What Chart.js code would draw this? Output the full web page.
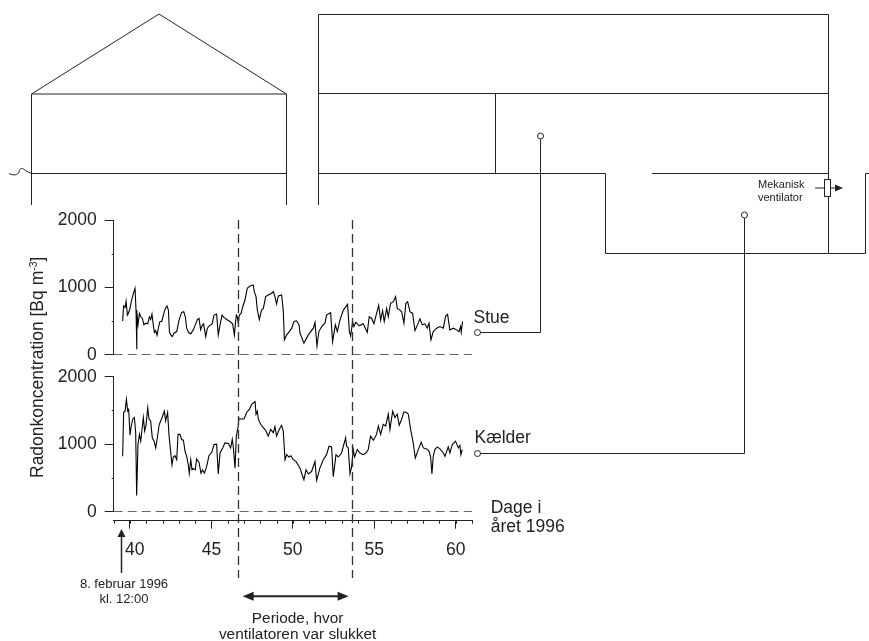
<!DOCTYPE html>
<html>
<head>
<meta charset="utf-8">
<style>
    html, body { margin: 0; padding: 0; background: #fff; }
    canvas { display: block; }
</style>
<script src="https://cdn.jsdelivr.net/npm/chart.js@4/dist/chart.umd.js"></script>
</head>
<body>
<canvas id="radonChart" width="869" height="641"></canvas>
<script>
// Stue (living room) series
const stueDays = [39.55,39.61,39.70,39.76,39.84,39.90,40.00,40.10,40.21,40.31,40.37,40.41,40.43,40.49,40.58,40.66,40.76,40.86,40.96,41.09,41.19,41.27,41.35,41.43,41.50,41.58,41.66,41.76,41.84,41.95,42.05,42.17,42.27,42.36,42.42,42.50,42.60,42.70,42.87,43.01,43.17,43.30,43.40,43.48,43.60,43.73,43.89,44.01,44.14,44.24,44.34,44.42,44.52,44.65,44.75,44.87,45.04,45.16,45.32,45.42,45.53,45.65,45.77,45.94,46.14,46.30,46.41,46.47,46.53,46.59,46.65,46.71,46.82,46.92,47.06,47.20,47.37,47.57,47.63,47.74,47.82,47.94,48.08,48.19,48.33,48.49,48.70,48.80,48.90,49.00,49.11,49.31,49.41,49.48,49.62,49.78,49.93,50.07,50.23,50.38,50.44,50.68,50.95,51.26,51.36,51.48,51.60,51.77,51.97,52.07,52.32,52.44,52.61,52.73,52.89,53.10,53.36,53.47,53.55,53.67,53.75,53.87,54.08,54.32,54.57,54.69,54.84,54.98,55.14,55.27,55.39,55.51,55.61,55.76,55.86,56.00,56.17,56.31,56.41,56.58,56.68,56.82,56.94,57.05,57.19,57.35,57.50,57.70,57.80,57.95,58.11,58.25,58.36,58.48,58.62,58.83,59.03,59.24,59.38,59.50,59.64,59.85,60.05,60.20,60.30,60.34,60.42];
const stueValues = [500,725,705,795,590,615,690,815,915,990,665,80,640,445,615,565,540,445,470,460,565,525,605,445,330,360,290,420,495,495,590,690,725,665,345,295,270,320,345,515,630,640,565,395,330,310,370,445,525,540,370,430,460,270,395,430,460,590,605,295,445,590,555,525,495,460,295,460,590,565,470,590,615,715,815,990,1025,1040,940,865,665,525,665,690,865,890,915,940,865,755,875,890,665,220,295,345,395,495,505,445,320,170,295,395,480,130,345,420,470,590,625,195,445,345,515,665,750,345,280,495,420,485,430,460,335,565,540,460,615,735,515,655,495,690,565,765,790,865,690,665,640,470,765,790,640,615,360,470,535,445,460,395,470,220,345,395,420,395,575,600,370,395,370,345,420,335,495];

// Kaelder (basement) series
const kaelderDays = [39.55,39.61,39.70,39.78,39.86,39.92,40.00,40.08,40.17,40.27,40.35,40.41,40.49,40.58,40.66,40.82,40.90,40.98,41.09,41.17,41.27,41.37,41.48,41.58,41.68,41.80,41.95,42.11,42.19,42.31,42.40,42.58,42.66,42.76,42.87,42.95,43.07,43.17,43.28,43.38,43.48,43.58,43.64,43.73,43.81,43.89,44.01,44.09,44.24,44.36,44.46,44.57,44.71,44.85,45.02,45.16,45.32,45.42,45.53,45.69,45.83,46.04,46.18,46.28,46.35,46.45,46.53,46.63,46.69,46.86,47.02,47.16,47.33,47.47,47.68,47.74,47.82,47.88,48.02,48.19,48.35,48.49,48.64,48.80,48.90,49.00,49.17,49.31,49.41,49.52,49.62,49.76,49.88,50.03,50.19,50.38,50.44,50.54,50.68,50.81,50.95,51.15,51.36,51.46,51.66,51.87,52.07,52.22,52.38,52.48,52.65,52.79,52.99,53.24,53.30,53.40,53.51,53.61,53.71,53.79,53.96,54.12,54.32,54.49,54.63,54.77,54.94,55.14,55.25,55.39,55.55,55.70,55.86,55.96,56.13,56.27,56.41,56.53,56.68,56.82,56.98,57.09,57.23,57.39,57.52,57.70,57.88,58.01,58.21,58.36,58.46,58.54,58.62,58.72,58.87,59.03,59.24,59.34,59.54,59.64,59.79,59.99,60.16,60.26,60.32,60.40];
const kaelderValues = [820,1470,1490,1665,1490,1515,1135,1270,1370,1395,1170,240,995,1145,1045,1395,1195,1270,1540,1370,1345,1095,1045,945,1095,1295,1380,1490,1345,1470,1120,695,810,830,770,1145,1145,1070,1060,895,820,695,570,770,620,640,620,780,730,570,620,570,670,830,880,995,1000,560,870,945,1020,1010,945,1070,945,645,1120,1245,1380,1370,1380,1470,1515,1590,1630,1445,1490,1370,1295,1245,1195,1120,1220,1170,1260,1120,1220,1280,1195,770,845,810,830,770,745,670,645,570,475,620,560,595,745,465,645,770,845,970,960,520,845,810,870,1095,970,945,560,670,920,810,920,870,845,870,920,1120,1060,1145,1270,1145,1295,1270,1445,1220,1490,1395,1445,1280,1370,1480,1470,1445,1220,1020,795,920,1030,945,930,895,810,560,820,920,960,930,870,820,960,870,995,1045,945,980,845,920];

const xTicks = [40, 45, 50, 55, 60];
const yTicks = [0, 1000, 2000];
const minorYTicks = [500, 1500];
const ventOffStart = 46.67;
const ventOffEnd = 53.67;
const startDay = 39.5;

const ink = '#222';
const dashInk = '#333';
const fontName = '"Liberation Sans", Arial, sans-serif';
const bigFont = '17.5px ' + fontName;

// building outline, pixel segments x1,y1,x2,y2
const buildingLines = [
    [31.5,94,159,14],[159,14,286.5,94],[31.5,94,286.5,94],[31.5,94,31.5,205],[286.5,94,286.5,205],[31.5,173.5,286.5,173.5],
    [318.5,14.5,828.5,14.5],[318.5,14.5,318.5,205],[828.5,14.5,828.5,253.5],[318.5,93.5,828.5,93.5],[495.5,93.5,495.5,173.5],
    [318.5,173.5,605.5,173.5],[605.5,173.5,605.5,253.5],[605.5,253.5,865.5,253.5],[865.5,253.5,865.5,173.5],[865.5,173.5,869,173.5],
    [652,173.5,828.5,173.5]
];

function hideScaleExtras(scale) {
    scale.width = 113.7;
}

function yScale(weight, stackWeight) {
    return {
        type: 'linear',
        position: 'left',
        stack: 'panels',
        stackWeight: stackWeight,
        weight: weight,
        min: 0,
        max: 2000,
        afterFit: hideScaleExtras,
        afterBuildTicks: (scale) => { scale.ticks = yTicks.map((v) => ({ value: v })); },
        border: { color: ink, width: 1 },
        grid: { drawOnChartArea: false, tickLength: 9, tickColor: ink },
        ticks: {
            color: ink,
            font: { family: fontName, size: 17.5 },
            padding: 8,
            autoSkip: false,
            callback: (v) => String(v)
        }
    };
}

// empty scale, only used to open a gap in the stack
function gapScale(weight, stackWeight) {
    return {
        type: 'linear',
        position: 'left',
        stack: 'panels',
        stackWeight: stackWeight,
        weight: weight,
        afterFit: hideScaleExtras,
        border: { display: false },
        grid: { display: false },
        ticks: { display: false }
    };
}

function line(ctx, x1, y1, x2, y2) {
    ctx.beginPath();
    ctx.moveTo(x1, y1);
    ctx.lineTo(x2, y2);
    ctx.stroke();
}

function circle(ctx, x, y) {
    ctx.beginPath();
    ctx.arc(x, y, 3, 0, Math.PI * 2);
    ctx.fillStyle = '#fff';
    ctx.fill();
    ctx.stroke();
}

function head(ctx, tipX, tipY, dx, dy, len, half) {
    ctx.beginPath();
    ctx.moveTo(tipX, tipY);
    ctx.lineTo(tipX - dx * len - dy * half, tipY - dy * len - dx * half);
    ctx.lineTo(tipX - dx * len + dy * half, tipY - dy * len + dx * half);
    ctx.closePath();
    ctx.fillStyle = ink;
    ctx.fill();
}

function label(ctx, text, x, y, font, align) {
    ctx.font = font;
    ctx.fillStyle = ink;
    ctx.textAlign = align || 'left';
    ctx.textBaseline = 'alphabetic';
    ctx.fillText(text, x, y);
}

// the house drawing and everything that is not a scale or dataset
const schematic = {
    id: 'schematic',
    beforeDraw(chart) {
        const ctx = chart.ctx;
        ctx.save();
        ctx.strokeStyle = ink;
        ctx.lineWidth = 1;
        buildingLines.forEach((s) => line(ctx, s[0], s[1], s[2], s[3]));

        // little wiggle left of the house
        ctx.beginPath();
        ctx.moveTo(9, 173.5);
        ctx.bezierCurveTo(14, 176, 18, 175, 19, 172);
        ctx.bezierCurveTo(20, 167, 23, 168, 26, 171);
        ctx.lineTo(32, 173.5);
        ctx.stroke();

        // fan
        line(ctx, 815, 188, 836, 188);
        ctx.fillStyle = '#fff';
        ctx.fillRect(824.5, 179.5, 6, 17);
        ctx.strokeRect(824.5, 179.5, 6, 17);
        head(ctx, 843, 188, 1, 0, 8, 3.5);
        label(ctx, 'Mekanisk', 758, 188, '11px ' + fontName);
        label(ctx, 'ventilator', 758, 201, '11px ' + fontName);
        ctx.restore();
    },
    afterDraw(chart) {
        const ctx = chart.ctx;
        const x = chart.scales.x;
        const top = chart.scales.yStue;
        const bottom = chart.scales.yKaelder;
        ctx.save();
        ctx.strokeStyle = ink;
        ctx.lineWidth = 1;

        // minor ticks
        for (let day = 39; day <= 61; day++) {
            const px = Math.round(x.getPixelForValue(day)) + 0.5;
            line(ctx, px, x.top, px, x.top + 3);
        }
        minorYTicks.forEach((v) => {
            [top, bottom].forEach((s) => {
                const py = Math.round(s.getPixelForValue(v)) + 0.5;
                line(ctx, s.right - 2, py, s.right, py);
            });
        });

        // fan off period
        ctx.setLineDash([9, 5]);
        ctx.strokeStyle = dashInk;
        ctx.lineWidth = 1.3;
        [ventOffStart, ventOffEnd].forEach((day) => {
            const px = Math.floor(x.getPixelForValue(day)) + 0.5;
            line(ctx, px, 220, px, 578);
        });
        ctx.setLineDash([]);
        ctx.strokeStyle = ink;

        const offA = x.getPixelForValue(ventOffStart);
        const offB = x.getPixelForValue(ventOffEnd);
        ctx.lineWidth = 2;
        line(ctx, offA + 10, 596.3, offB - 10, 596.3);
        head(ctx, offA + 4, 596.3, -1, 0, 11, 4.5);
        head(ctx, offB - 4, 596.3, 1, 0, 11, 4.5);
        ctx.lineWidth = 1;
        const mid = (offA + offB) / 2;
        label(ctx, 'Periode, hvor', mid + 2, 622.5, '15.4px ' + fontName, 'center');
        label(ctx, 'ventilatoren var slukket', mid + 2, 639, '15.4px ' + fontName, 'center');

        // start arrow
        const startPx = Math.floor(x.getPixelForValue(startDay)) + 0.5;
        ctx.lineWidth = 1.5;
        line(ctx, startPx, 535, startPx, 573);
        head(ctx, startPx, 529, 0, -1, 8, 4);
        ctx.lineWidth = 1;
        label(ctx, '8. februar 1996', 124, 587.7, '13px ' + fontName, 'center');
        label(ctx, 'kl. 12:00', 124, 603.3, '13px ' + fontName, 'center');

        // leaders from the series to the rooms
        line(ctx, 480, 332.5, 540.5, 332.5);
        line(ctx, 540.5, 332.5, 540.5, 139);
        circle(ctx, 477.5, 332.5);
        circle(ctx, 540.5, 136);
        line(ctx, 480, 453.5, 744.5, 453.5);
        line(ctx, 744.5, 453.5, 744.5, 218);
        circle(ctx, 477.5, 453.5);
        circle(ctx, 744.5, 215);

        label(ctx, 'Stue', 473.5, 323.3, bigFont);
        label(ctx, 'Kælder', 474.5, 442.7, bigFont);
        label(ctx, 'Dage i', 490.7, 512.7, bigFont);
        label(ctx, 'året 1996', 490.7, 532.3, bigFont);

        // shared y title, the Chart.js title can not do the superscript
        ctx.translate(42.7, 478);
        ctx.rotate(-Math.PI / 2);
        const title = 'Radonkoncentration [Bq m';
        label(ctx, title, 0, 0, bigFont);
        const w = ctx.measureText(title).width;
        label(ctx, '-3', w, -6, '10.5px ' + fontName);
        const w2 = ctx.measureText('-3').width;
        label(ctx, ']', w + w2, 0, bigFont);
        ctx.restore();
    }
};

function toPoints(days, values) {
    return days.map((d, i) => ({ x: d, y: values[i] }));
}

function zeroLine(axis) {
    return {
        data: [{ x: 39, y: 0 }, { x: 61, y: 0 }],
        yAxisID: axis,
        borderColor: dashInk,
        borderWidth: 1.4,
        borderDash: [9, 5],
        pointRadius: 0
    };
}

new Chart(document.getElementById('radonChart'), {
    type: 'line',
    data: {
        datasets: [
            { label: 'Stue', data: toPoints(stueDays, stueValues), yAxisID: 'yStue', borderColor: '#000', borderWidth: 1.1, pointRadius: 0 },
            { label: 'Kælder', data: toPoints(kaelderDays, kaelderValues), yAxisID: 'yKaelder', borderColor: '#000', borderWidth: 1.1, pointRadius: 0 },
            zeroLine('yStue'),
            zeroLine('yKaelder')
        ]
    },
    options: {
        responsive: false,
        animation: false,
        layout: { padding: { top: 220.5, right: 397, bottom: 0, left: 0 } },
        plugins: { legend: { display: false }, title: { display: false }, tooltip: { enabled: false } },
        scales: {
            x: {
                type: 'linear',
                min: 39,
                max: 61,
                afterFit: (scale) => { scale.height = 120.3; },
                afterBuildTicks: (scale) => { scale.ticks = xTicks.map((v) => ({ value: v })); },
                border: { color: ink, width: 1 },
                grid: { drawOnChartArea: false, tickLength: 8, tickColor: ink },
                ticks: {
                    color: ink,
                    font: { family: fontName, size: 17.5 },
                    padding: 11,
                    maxRotation: 0,
                    autoSkip: false,
                    // the 40 sits a bit right of its tick, clear of the arrow
                    callback: (v) => (v === 40 ? '  40' : String(v))
                }
            },
            yStue: yScale(4, 134.2),
            yGap: gapScale(3, 22),
            yKaelder: yScale(2, 135),
            yGap2: gapScale(1, 9)
        }
    },
    plugins: [schematic]
});
</script>
</body>
</html>
